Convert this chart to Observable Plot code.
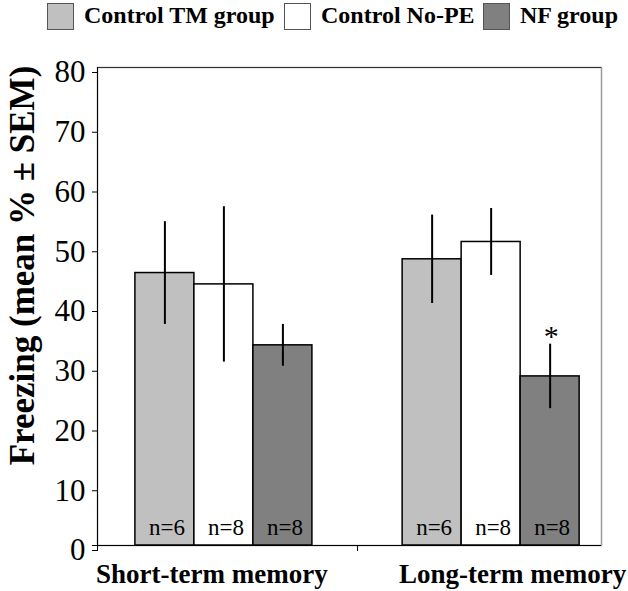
<!DOCTYPE html>
<html>
<head>
<meta charset="utf-8">
<script src="https://cdn.jsdelivr.net/npm/d3@7"></script>
<script src="https://cdn.jsdelivr.net/npm/@observablehq/plot@0.6"></script>
<style>
  html, body { margin: 0; padding: 0; background: #fff; }
  body { width: 628px; height: 591px; overflow: hidden; font-family: "Liberation Serif", "Times New Roman", serif; }
  #legend { height: 36px; position: relative; }
  .item { position: absolute; top: 0; display: flex; align-items: flex-start; }
  .sw { width: 25px; height: 25px; border: 1px solid #555; box-sizing: content-box; margin-top: 3px; }
  .lab { font-weight: bold; font-size: 24px; line-height: 30px; margin-left: 10px; color: #000; white-space: nowrap; }
  #chart svg { display: block; }
</style>
</head>
<body>
<div id="legend"></div>
<div id="chart"></div>
<script>
// ---- data ----
const groups = ["Short-term memory", "Long-term memory"];
const series = ["Control TM group", "Control No-PE", "NF group"];
const colors = ["#c0c0c0", "#ffffff", "#808080"];
const meanTM   = [45.6, 47.9];
const meanNoPE = [43.7, 50.8];
const meanNF   = [33.5, 28.3];
const semTM    = [8.6, 7.4];
const semNoPE  = [13.0, 5.6];
const semNF    = [3.5, 5.4];
const nTM = [6, 6];
const nNoPE = [8, 8];
const nNF = [8, 8];
const yTicks = [0, 10, 20, 30, 40, 50, 60, 70, 80];
const yTitle = "Freezing (mean % ± SEM)";
const sigMarks = [{group: 1, series: 2, label: "*"}];

// ---- build table ----
const means = [meanTM, meanNoPE, meanNF];
const sems = [semTM, semNoPE, semNF];
const ns = [nTM, nNoPE, nNF];
const barW = 0.2208;                 // bar width in group units
const xDomain = [-0.473, 1.413];     // layout of the category axis
const rows = [];
groups.forEach((g, gi) => {
  series.forEach((s, si) => {
    const x1 = gi + (si - 1.5) * barW;
    rows.push({group: g, gi, series: s, si, x1, x2: x1 + barW, xc: x1 + barW / 2,
      mean: means[si][gi], sem: sems[si][gi], n: ns[si][gi], color: colors[si]});
  });
});
const sig = sigMarks.map(m => ({...rows.find(r => r.gi === m.group && r.si === m.series), label: m.label}));
const groupRows = groups.map((g, i) => ({g, i}));

// ---- legend ----
const legend = document.getElementById("legend");
const legendX = [47, 284, 483];
series.forEach((s, i) => {
  const it = document.createElement("div");
  it.className = "item";
  it.style.left = legendX[i] + "px";
  it.innerHTML = `<div class="sw" style="background:${colors[i]}"></div><div class="lab">${s}</div>`;
  legend.appendChild(it);
});

// ---- chart ----
const serif = "'Liberation Serif', 'Times New Roman', serif";
const chart = Plot.plot({
  width: 628,
  height: 555,
  marginTop: 31,
  marginBottom: 46,
  marginLeft: 97,
  marginRight: 27,
  style: {fontFamily: serif, background: "white", color: "black"},
  x: {type: "linear", domain: xDomain, axis: null},
  y: {domain: [0, 80], axis: null},
  marks: [
    Plot.frame({stroke: "#9a9a9a", strokeWidth: 1.5}),
    Plot.ruleY([80], {stroke: "#333", strokeWidth: 1}),
    Plot.axisY({ticks: yTicks, tickSize: 5, tickPadding: 7, fontSize: 31, dy: 5, stroke: "black", label: null}),
    Plot.axisX({ticks: [xDomain[0], 0.5], tickSize: 6, tickFormat: () => "", stroke: "black", label: null}),
    Plot.rectY(rows, {x1: "x1", x2: "x2", y1: 0, y2: "mean", fill: "color", stroke: "black", strokeWidth: 1.5}),
    Plot.ruleX(rows, {x: "xc", y1: d => d.mean - d.sem, y2: d => d.mean + d.sem, stroke: "black", strokeWidth: 2}),
    Plot.ruleX([xDomain[0]], {stroke: "black", strokeWidth: 1, insetBottom: -4}),
    Plot.ruleY([0], {stroke: "black", strokeWidth: 1, insetLeft: -5}),
    Plot.text(rows, {x: "xc", y: 0, text: d => "n=" + d.n, fontSize: 23, dy: -17.4, dx: 2, fill: "black"}),
    Plot.text(sig, {x: "xc", y: d => d.mean + d.sem, text: "label", fontSize: 30, dy: -8, dx: 1, fill: "black"}),
    Plot.text(groupRows.filter(d => d.i === 0), {x: "i", y: 0, text: "g", fontSize: 27, fontWeight: "bold", dy: 28.4, dx: -12, fill: "black"}),
    Plot.text(groupRows.filter(d => d.i === 1), {x: "i", y: 0, text: "g", fontSize: 27, fontWeight: "bold", dy: 28.4, dx: 21.5, fill: "black"}),
    Plot.text([yTitle], {x: xDomain[0], y: 40, text: d => d, rotate: -90, fontSize: 35, fontWeight: "bold", dx: -75, dy: -41, fill: "black"})
  ]
});
document.getElementById("chart").appendChild(chart);
</script>
</body>
</html>
